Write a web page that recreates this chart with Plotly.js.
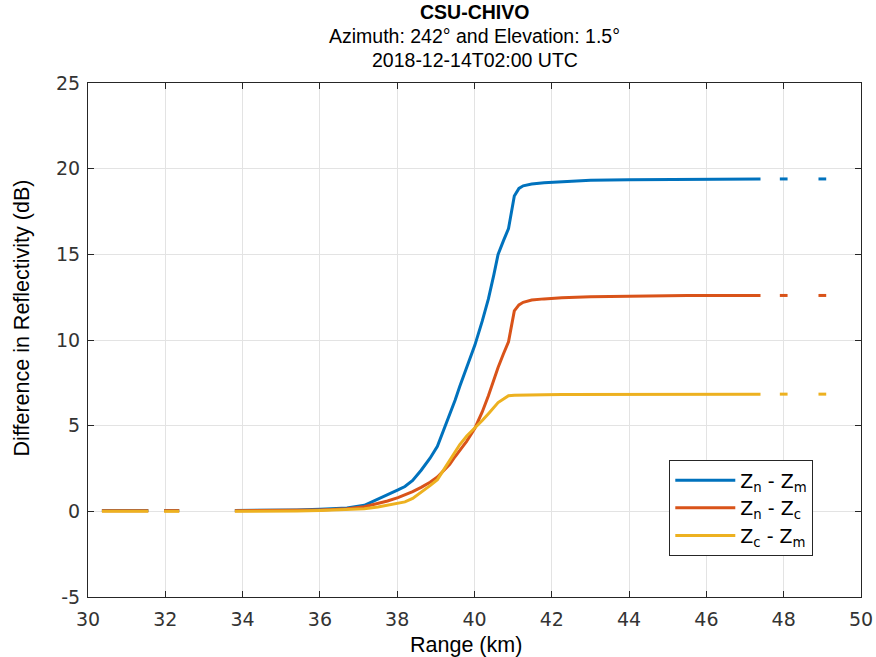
<!DOCTYPE html>
<html>
<head>
<meta charset="utf-8">
<script src="https://cdn.plot.ly/plotly-3.0.1.min.js"></script>
<style>
  html, body { margin: 0; padding: 0; background: #ffffff; }
  #chart { width: 876px; height: 657px; }
</style>
</head>
<body>
<div id="chart"></div>
<script>
// Range gates along the ray (km); null values in the series break the line
const rangeKm = [30.36, 31.56, 31.76, 31.97, 32.36, 33.0, 33.80, 34.6, 35.4, 36.0, 36.3, 36.7,
  37.15, 37.5, 37.75, 38.02, 38.2, 38.4, 38.62, 38.85, 39.04, 39.2, 39.36, 39.5, 39.62,
  39.8, 40.01, 40.2, 40.36, 40.5, 40.61, 40.75, 40.88, 41.03, 41.15, 41.26, 41.48, 41.8,
  42.26, 43.0, 44.0, 45.5, 47.4, 47.65, 47.9, 48.1, 48.5, 48.9, 49.1];

// Zn - Zm (dB)
const diffNM = [0.05, 0.05, null, 0.05, 0.05, null, 0.05, 0.05, 0.08, 0.12, 0.15, 0.2,
  0.35, 0.7, 0.95, 1.25, 1.45, 1.8, 2.4, 3.1, 3.8, 4.7, 5.6, 6.5, 7.3,
  8.4, 9.7, 11.1, 12.4, 13.8, 15.0, 15.8, 16.5, 18.4, 18.85, 19.0, 19.1, 19.18,
  19.25, 19.32, 19.36, 19.38, 19.4, null, 19.4, 19.4, null, 19.4, 19.4];

// Zn - Zc (dB)
const diffNC = [0.04, 0.04, null, 0.04, 0.04, null, 0.04, 0.04, 0.05, 0.08, 0.1, 0.15,
  0.27, 0.45, 0.6, 0.8, 0.95, 1.15, 1.4, 1.7, 2.0, 2.4, 2.75, 3.2, 3.55,
  4.1, 4.85, 5.8, 6.75, 7.7, 8.4, 9.2, 9.9, 11.7, 12.05, 12.2, 12.33, 12.4,
  12.47, 12.53, 12.57, 12.59, 12.6, null, 12.6, 12.6, null, 12.6, 12.6];

// Zc - Zm (dB)
const diffCM = [0.0, 0.0, null, 0.0, 0.0, null, 0.0, 0.0, 0.02, 0.05, 0.07, 0.1,
  0.15, 0.25, 0.35, 0.45, 0.55, 0.75, 1.1, 1.5, 1.85, 2.4, 3.0, 3.5, 3.9,
  4.4, 4.85, 5.3, 5.7, 6.1, 6.35, 6.55, 6.75, 6.78, 6.79, 6.8, 6.81, 6.81,
  6.82, 6.82, 6.83, 6.83, 6.84, null, 6.84, 6.84, null, 6.84, 6.84];

const seriesNames = ['Z<sub>n</sub> - Z<sub>m</sub>', 'Z<sub>n</sub> - Z<sub>c</sub>', 'Z<sub>c</sub> - Z<sub>m</sub>'];
const seriesColors = ['#0072BD', '#D95319', '#EDB120'];
const seriesValues = [diffNM, diffNC, diffCM];

const titleLines = ['<b>CSU-CHIVO</b>', 'Azimuth: 242° and Elevation: 1.5°', '2018-12-14T02:00 UTC'];
const xLabel = 'Range (km)';
const yLabel = 'Difference in Reflectivity (dB)';
const xTicks = [30, 32, 34, 36, 38, 40, 42, 44, 46, 48, 50];
const yTicks = [-5, 0, 5, 10, 15, 20, 25];

const traces = seriesValues.map((vals, i) => ({
  type: 'scatter',
  mode: 'lines',
  x: rangeKm,
  y: vals,
  name: seriesNames[i],
  connectgaps: false,
  line: { color: seriesColors[i], width: 3 }
}));

const axisText = '#262626';
const tickFont = { family: 'DejaVu Sans, sans-serif', size: 19, color: '#333333' };
const labelFont = { family: 'Liberation Sans, Arial, sans-serif', size: 21.5, color: '#000000' };

const commonAxis = {
  showline: true,
  linecolor: axisText,
  linewidth: 1,
  mirror: 'ticks',
  ticks: 'inside',
  ticklen: 6,
  tickcolor: axisText,
  showgrid: true,
  gridcolor: '#e3e3e3',
  gridwidth: 1,
  zeroline: false,
  tickfont: tickFont
};

// title lines stacked above the plot area
const titleNotes = titleLines.map((t, i) => ({
  text: t,
  xref: 'paper', yref: 'paper',
  x: 0.5, y: 1, xanchor: 'center', yanchor: 'middle',
  yshift: 71 - i * 24,
  showarrow: false,
  font: { family: 'Liberation Sans, Arial, sans-serif', size: 19.5, color: '#000000' }
}));

// axis labels
const labelNotes = [
  {
    text: xLabel, xref: 'paper', yref: 'paper',
    x: 0.489, y: 0, xanchor: 'center', yanchor: 'middle', yshift: -48,
    showarrow: false, font: labelFont
  },
  {
    text: yLabel, xref: 'paper', yref: 'paper', textangle: -90,
    x: 0, y: 0.542, xanchor: 'center', yanchor: 'middle', xshift: -66,
    showarrow: false, font: labelFont
  }
];

const layout = {
  width: 876,
  height: 657,
  paper_bgcolor: '#ffffff',
  plot_bgcolor: '#ffffff',
  margin: { l: 88, r: 15, t: 83, b: 60 },
  showlegend: true,
  legend: {
    x: 0.752, y: 0.266, xanchor: 'left', yanchor: 'top',
    bgcolor: '#ffffff',
    bordercolor: '#262626',
    borderwidth: 1,
    itemwidth: 60,
    tracegroupgap: 2,
    font: { family: 'DejaVu Sans, sans-serif', size: 19, color: '#000000' }
  },
  xaxis: Object.assign({}, commonAxis, {
    range: [30, 50],
    tickvals: xTicks,
    ticktext: xTicks.map(String),
    ticklabelstandoff: 5
  }),
  yaxis: Object.assign({}, commonAxis, {
    range: [-5, 25],
    tickvals: yTicks,
    ticktext: yTicks.map(String),
    ticklabelstandoff: 3
  }),
  annotations: titleNotes.concat(labelNotes)
};

Plotly.newPlot('chart', traces, layout, { displayModeBar: false, staticPlot: true });
</script>
</body>
</html>
